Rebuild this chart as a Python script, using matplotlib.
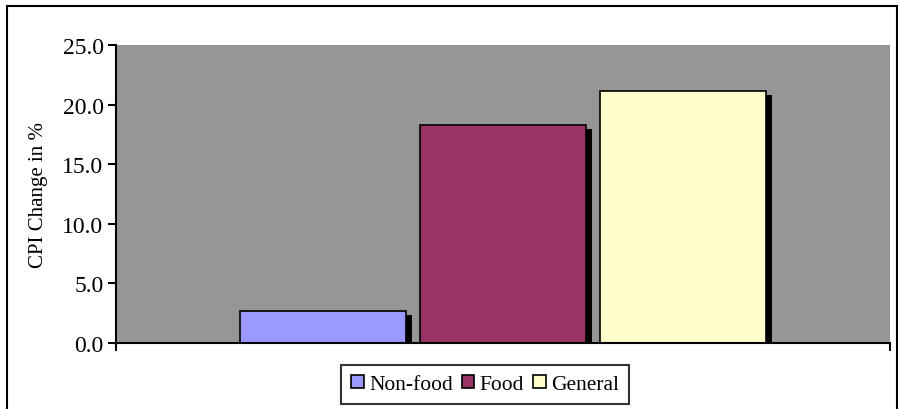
import matplotlib
matplotlib.use("Agg")
import matplotlib.pyplot as plt
from matplotlib.patches import Rectangle

categories = ["Non-food", "Food", "General"]
values = [2.7, 18.3, 21.1]
colors = ["#9999ff", "#993366", "#ffffcc"]

plt.rcParams["font.family"] = ["Liberation Serif", "DejaVu Serif"]

fig = plt.figure(figsize=(8.98, 4.10), dpi=100)
ax = fig.add_axes([116 / 898, 1 - 344 / 410, 774 / 898, 298 / 410])
ax.set_facecolor("#969696")

# black border round the whole figure
fig.patches.append(
    Rectangle((7 / 898, -0.05), 890 / 898, 1 - 7 / 410 + 0.05, transform=fig.transFigure,
              fill=False, edgecolor="black", linewidth=1.5, zorder=0)
)

xs = [0, 1, 2]
width = 166 / 180
dx, dy = 6 / 180, 4 / 11.9

# drop shadows
for x, v in zip(xs, values):
    ax.bar(x + dx, v - dy, width=width, color="black", zorder=1)

for x, v, c, lab in zip(xs, values, colors, categories):
    ax.bar(x, v, width=width, color=c, edgecolor="black", linewidth=1.2, zorder=2, label=lab)

ticks = [0, 5, 10, 15, 20, 25]
ax.set_xlim(1 - 387 / 180, 1 + 387 / 180)
ax.set_ylim(0, 25)
ax.set_yticks(ticks)
ax.set_yticklabels([f"{t:.1f}" for t in ticks], fontsize=17)
ax.set_xticks([1 - 387 / 180, 1 + 387 / 180])
ax.set_xticklabels(["", ""])
ax.tick_params(axis="both", direction="out", length=6, width=1.5, color="black", pad=3)
ax.set_ylabel("CPI Change in %", fontsize=15, labelpad=10)

for side in ["top", "right"]:
    ax.spines[side].set_visible(False)
for side in ["left", "bottom"]:
    ax.spines[side].set_linewidth(1.5)
    ax.spines[side].set_zorder(3)

leg = fig.legend(loc="upper center", bbox_to_anchor=(485 / 898, 1 - 366 / 410), ncol=3,
                 fontsize=15.5, frameon=True, fancybox=False, edgecolor="black",
                 handlelength=0.6, handleheight=0.6, handletextpad=0.25, columnspacing=0.4,
                 borderpad=0.45, borderaxespad=0)
leg.get_frame().set_linewidth(1.5)

fig.savefig("out.png", dpi=100)
